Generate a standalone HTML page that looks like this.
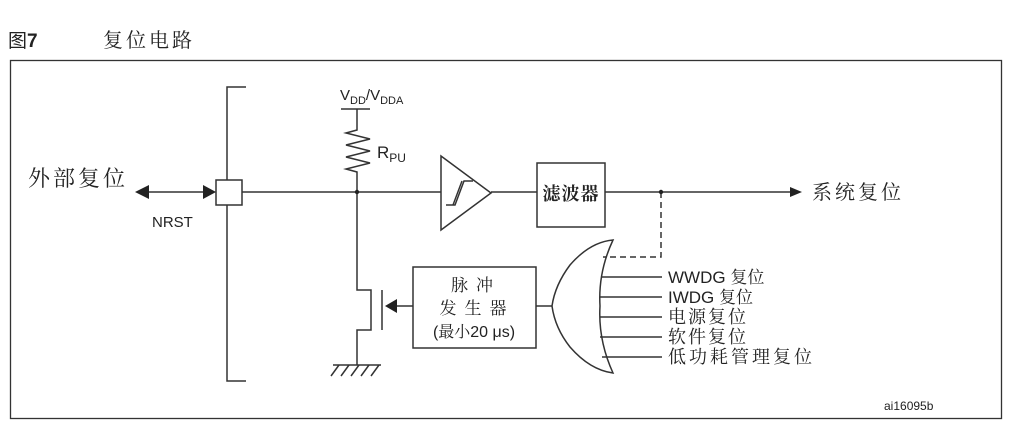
<!DOCTYPE html>
<html><head><meta charset="utf-8"><style>
body{margin:0;background:#fff;width:1014px;height:434px;overflow:hidden}
svg{display:block}
text{font-family:"Liberation Sans","Noto Serif CJK SC",serif;fill:#222}
.s{font-family:"Liberation Sans","Noto Sans CJK SC",sans-serif}
</style></head><body>
<svg width="1014" height="434" viewBox="0 0 1014 434">
<text x="8" y="47" font-size="19" class="s">图<tspan font-weight="bold">7</tspan></text>
<text x="103" y="47" font-size="20" letter-spacing="3">复位电路</text>
<rect x="10.5" y="60.5" width="991" height="358" fill="none" stroke="#333" stroke-width="1.3"/>
<g stroke="#333" stroke-width="1.5" fill="none">
<polyline points="246,87 227,87 227,381 246,381"/>
<line x1="148" y1="192" x2="205" y2="192"/>
<line x1="242" y1="192" x2="441" y2="192"/>
<line x1="341" y1="109" x2="370" y2="109"/>
<polyline points="357,109 357,130 346,133 370,139 346,145 370,151 346,157 370,163 346,169 357,172 357,192"/>
<polyline points="357,192 357,290 371,290 371,330 357,330 357,365"/>
<line x1="382" y1="290" x2="382" y2="330"/>
<line x1="397" y1="306" x2="413" y2="306"/>
<line x1="333" y1="365" x2="381" y2="365"/>
<line x1="339" y1="365" x2="331" y2="376"/><line x1="349" y1="365" x2="341" y2="376"/><line x1="359" y1="365" x2="351" y2="376"/><line x1="369" y1="365" x2="361" y2="376"/><line x1="379" y1="365" x2="371" y2="376"/>
<polygon points="441,156 441,230 491,193"/>
<polyline points="446,205 455,205 464,181 473,181"/>
<polyline points="453,205 462,181"/>
<line x1="491" y1="192" x2="537" y2="192"/>
<rect x="537" y="163" width="68" height="64"/>
<line x1="605" y1="192" x2="790" y2="192"/>
<polyline points="661,192 661,257 603,257" stroke-dasharray="6,4"/>
<rect x="413" y="267" width="123" height="81"/>
<line x1="536" y1="306" x2="552" y2="306"/>
<path d="M613,240 Q590,242 570,265 Q555,285 552,306 Q555,328 570,347 Q590,370 613,373 Q598,340 600,306 Q598,272 613,240 Z"/>
<line x1="601" y1="277" x2="662" y2="277"/>
<line x1="600" y1="297" x2="662" y2="297"/>
<line x1="600" y1="317" x2="662" y2="317"/>
<line x1="600" y1="337" x2="662" y2="337"/>
<line x1="602" y1="357" x2="662" y2="357"/>
</g>
<rect x="216" y="180" width="26" height="25" fill="#fff" stroke="#333" stroke-width="1.5"/>
<g fill="#222">
<polygon points="135,192 149,185 149,199"/>
<polygon points="216,192 203,185 203,199"/>
<polygon points="385,306 397,299 397,313"/>
<polygon points="802,192 790,187 790,197"/>
<circle cx="357" cy="192" r="2.2"/><circle cx="661" cy="192" r="2.2"/>
</g>
<text x="28" y="186" font-size="22" letter-spacing="3">外部复位</text>
<text x="152" y="227" font-size="15">NRST</text>
<text x="340" y="100" font-size="15">V<tspan font-size="11" dy="4">DD</tspan><tspan dy="-4">/V</tspan><tspan font-size="11" dy="4">DDA</tspan></text>
<text x="377" y="158" font-size="17">R<tspan font-size="12" dy="4">PU</tspan></text>
<text x="571" y="200" font-size="18" text-anchor="middle" font-weight="bold" letter-spacing="1">滤波器</text>
<text x="812" y="199" font-size="20" letter-spacing="3">系统复位</text>
<text x="476" y="291" font-size="17" text-anchor="middle" letter-spacing="8">脉冲</text>
<text x="477" y="314" font-size="17" text-anchor="middle" letter-spacing="8">发生器</text>
<text x="474" y="337" font-size="16" text-anchor="middle">(最小20 μs)</text>
<text x="668" y="283" font-size="17">WWDG 复位</text>
<text x="668" y="303" font-size="17">IWDG 复位</text>
<text x="668" y="323" font-size="18" letter-spacing="2">电源复位</text>
<text x="668" y="343" font-size="18" letter-spacing="2">软件复位</text>
<text x="668" y="363" font-size="18" letter-spacing="3">低功耗管理复位</text>
<text x="884" y="410" font-size="12">ai16095b</text>
</svg>
</body></html>
